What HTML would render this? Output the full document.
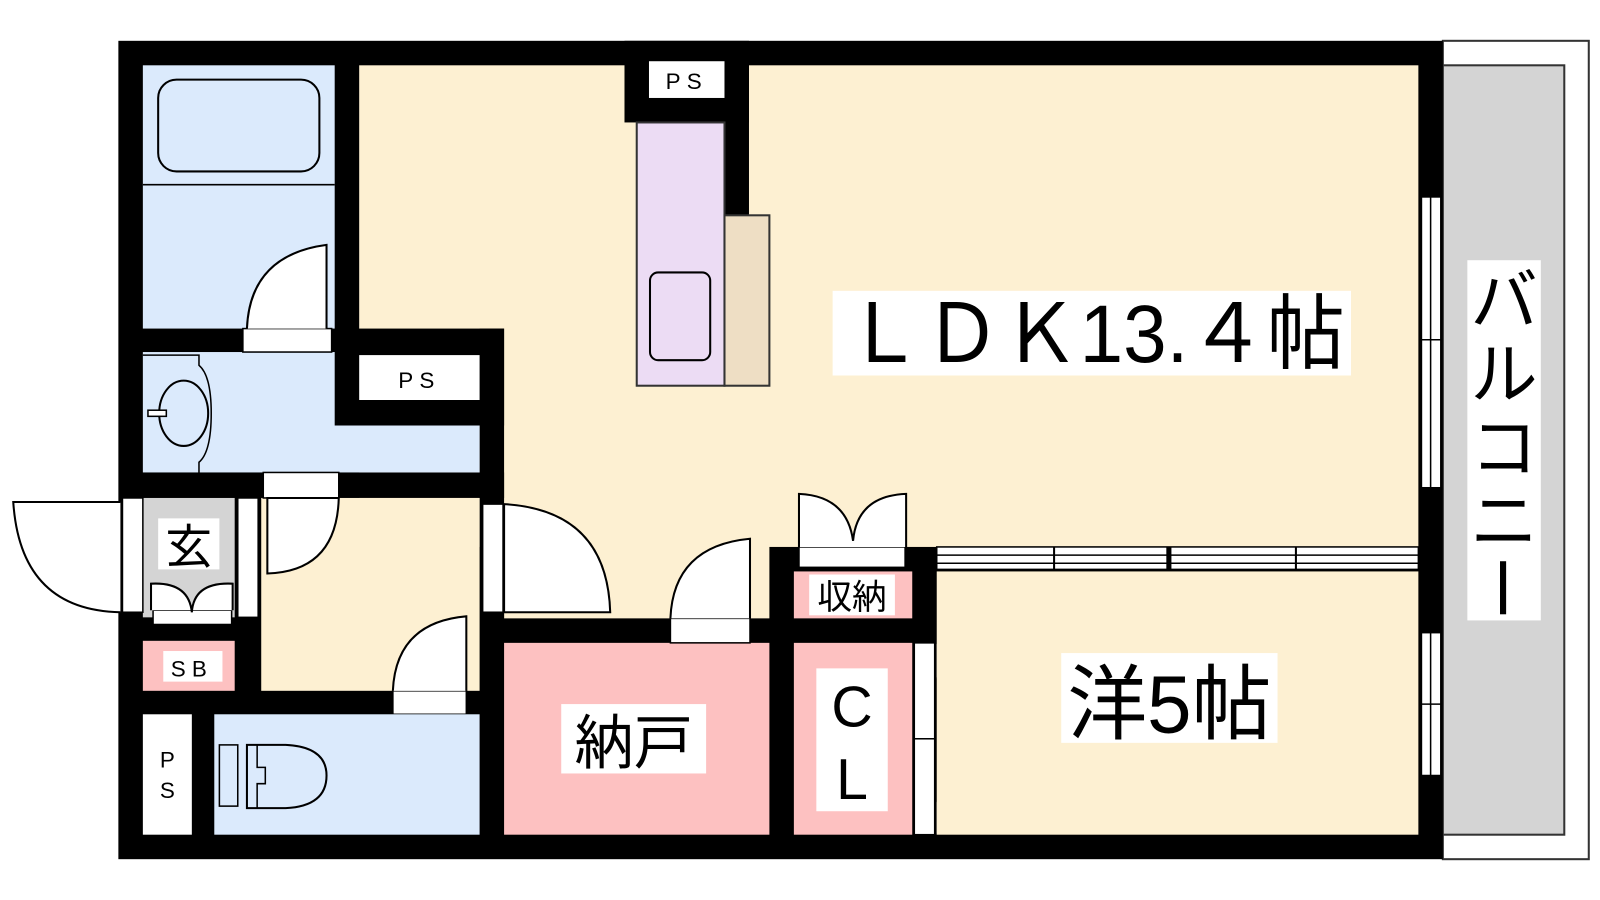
<!DOCTYPE html>
<html><head><meta charset="utf-8"><style>
html,body{margin:0;padding:0;background:#fff;width:1600px;height:900px;overflow:hidden}
svg{display:block}
text{font-family:"Liberation Sans","Noto Sans CJK JP",sans-serif;fill:#000}
</style></head><body>
<svg width="1600" height="900" viewBox="0 0 1568 882" preserveAspectRatio="none">
<!-- balcony -->
<rect x="1414" y="40" width="143" height="802" fill="#fff" stroke="#333" stroke-width="2"/>
<rect x="1414" y="64" width="119" height="754" fill="#d4d4d4" stroke="#333" stroke-width="2"/>
<!-- outer wall -->
<rect x="116" y="40" width="1298" height="802" fill="#000"/>
<!-- LDK -->
<rect x="352" y="64" width="1038" height="472" fill="#fdf0d2"/>
<rect x="494" y="320" width="260" height="286" fill="#fdf0d2"/>
<rect x="470" y="322" width="24" height="308" fill="#000"/>
<rect x="330" y="463" width="164" height="25" fill="#000"/>
<!-- bathroom -->
<rect x="140" y="64" width="188" height="258" fill="#dbeafc"/>
<rect x="155" y="78" width="158" height="90" rx="18" fill="none" stroke="#000" stroke-width="2"/>
<line x1="140" y1="181" x2="328" y2="181" stroke="#000" stroke-width="1.5"/>
<!-- washroom -->
<rect x="140" y="345" width="330" height="118" fill="#dbeafc"/>
<rect x="328" y="322" width="166" height="95" fill="#000"/>
<rect x="352" y="348" width="118" height="44" fill="#fff"/>
<text x="411" y="380" font-size="22" text-anchor="middle" letter-spacing="6">PS</text>
<path d="M140 348 H195 V358 Q207 368 207 405 Q207 443 195 453 V463" fill="none" stroke="#000" stroke-width="1.5"/>
<ellipse cx="180" cy="405" rx="24" ry="32" fill="none" stroke="#000" stroke-width="2"/>
<rect x="145" y="402" width="18" height="6" fill="#fff" stroke="#000" stroke-width="1.5"/>
<!-- bathroom door -->
<rect x="238" y="322" width="87" height="23" fill="#fff" stroke="#000" stroke-width="1.5"/>
<path d="M242 322 Q245 250 320 240 V322" fill="#fff" stroke="#000" stroke-width="2"/>
<!-- genkan -->
<rect x="140" y="488" width="90" height="117" fill="#d4d4d4"/>
<rect x="155" y="508" width="60" height="50" fill="#fff"/>
<text x="185" y="552" font-size="46" text-anchor="middle">玄</text>
<rect x="120" y="488" width="20" height="112" fill="#fff" stroke="#000" stroke-width="1.5"/>
<path d="M118 600 Q20 598 13 492 H118" fill="#fff" stroke="#000" stroke-width="2"/>
<rect x="233" y="488" width="20" height="117" fill="#fff" stroke="#000" stroke-width="1.5"/>
<rect x="150" y="598" width="77" height="14" fill="#fff" stroke="#000" stroke-width="1.5"/>
<path d="M148 598 V572 Q185 570 188 600 Q190 570 228 572 V598" fill="#fff" stroke="#000" stroke-width="2"/>
<rect x="140" y="628" width="90" height="49" fill="#fdc1c1"/>
<rect x="160" y="638" width="58" height="30" fill="#fff"/>
<text x="188" y="663" font-size="22" text-anchor="middle" letter-spacing="6">SB</text>
<!-- hall -->
<rect x="256" y="488" width="214" height="189" fill="#fdf0d2"/>
<rect x="258" y="463" width="74" height="25" fill="#fff" stroke="#000" stroke-width="1.5"/>
<path d="M262 488 V562 Q330 560 332 488 Z" fill="#fff" stroke="#000" stroke-width="2"/>
<!-- toilet door -->
<rect x="385" y="677" width="72" height="23" fill="#fff" stroke="#000" stroke-width="1.5"/>
<path d="M385 677 Q388 610 457 604 V677" fill="#fff" stroke="#000" stroke-width="2"/>
<!-- toilet -->
<rect x="140" y="700" width="48" height="118" fill="#fff"/>
<text x="164" y="752" font-size="22" text-anchor="middle">P</text>
<text x="164" y="782" font-size="22" text-anchor="middle">S</text>
<rect x="210" y="700" width="260" height="118" fill="#dbeafc"/>
<rect x="215" y="730" width="18" height="60" fill="#dbeafc" stroke="#000" stroke-width="1.5"/>
<path d="M242 730 H280 Q320 732 320 760 Q320 790 280 792 H242 Z" fill="#dbeafc" stroke="#000" stroke-width="2"/>
<path d="M252 730 V752 H260 V768 H252 V792" fill="none" stroke="#000" stroke-width="1.5"/>
<!-- LDK door from hall -->
<rect x="473" y="494" width="20" height="106" fill="#fff" stroke="#000" stroke-width="1.5"/>
<path d="M494 494 Q595 500 598 600 H494 Z" fill="#fff" stroke="#000" stroke-width="2"/>
<!-- nando -->
<rect x="494" y="630" width="260" height="188" fill="#fdc1c1"/>
<rect x="550" y="690" width="142" height="68" fill="#fff"/>
<text x="621" y="748" font-size="58" text-anchor="middle">納戸</text>
<rect x="657" y="606" width="78" height="24" fill="#fff" stroke="#000" stroke-width="1.5"/>
<path d="M657 606 Q660 535 735 528 V606" fill="#fff" stroke="#000" stroke-width="2"/>
<!-- storage -->
<rect x="778" y="560" width="116" height="46" fill="#fdc1c1"/>
<rect x="793" y="563" width="84" height="40" fill="#fff"/>
<text x="835" y="597" font-size="34" text-anchor="middle">収納</text>
<rect x="783" y="536" width="104" height="20" fill="#fff" stroke="#000" stroke-width="1.5"/>
<path d="M783 536 V484 Q830 486 836 530 Q840 486 888 484 V536" fill="#fff" stroke="#000" stroke-width="2"/>
<!-- CL -->
<rect x="778" y="630" width="116" height="188" fill="#fdc1c1"/>
<rect x="800" y="655" width="70" height="140" fill="#fff"/>
<text x="835" y="712" font-size="56" text-anchor="middle">C</text>
<text x="835" y="783" font-size="56" text-anchor="middle">L</text>
<rect x="896" y="630" width="20" height="94" fill="#fff" stroke="#000" stroke-width="1.5"/>
<rect x="896" y="724" width="20" height="94" fill="#fff" stroke="#000" stroke-width="1.5"/>
<path d="M918 630 L965 647 L918 665" fill="#fff" stroke="#000" stroke-width="2"/>
<path d="M918 785 L965 802 L918 818" fill="#fff" stroke="#000" stroke-width="2"/>
<!-- western room -->
<rect x="918" y="560" width="472" height="258" fill="#fdf0d2"/>
<rect x="1040" y="640" width="212" height="88" fill="#fff"/>
<text x="1146" y="718" font-size="80" text-anchor="middle" textLength="200" lengthAdjust="spacingAndGlyphs">洋5帖</text>
<!-- sliding partition -->
<rect x="918" y="536" width="472" height="22" fill="#fff" stroke="#000" stroke-width="1.5"/>
<line x1="918" y1="544" x2="1390" y2="544" stroke="#000" stroke-width="1.5"/>
<line x1="918" y1="552" x2="1390" y2="552" stroke="#000" stroke-width="1.5"/>
<rect x="1143" y="536" width="5" height="22" fill="#000"/>
<line x1="1033" y1="536" x2="1033" y2="558" stroke="#000" stroke-width="2"/>
<line x1="1270" y1="536" x2="1270" y2="558" stroke="#000" stroke-width="2"/>
<!-- kitchen -->
<rect x="612" y="40" width="122" height="80" fill="#000"/>
<rect x="636" y="60" width="74" height="36" fill="#fff"/>
<text x="673" y="87" font-size="22" text-anchor="middle" letter-spacing="6">PS</text>
<rect x="710" y="64" width="24" height="148" fill="#000"/>
<rect x="624" y="120" width="86" height="258" fill="#ecdcf4" stroke="#333" stroke-width="2"/>
<rect x="710" y="211" width="44" height="167" fill="#eedec4" stroke="#333" stroke-width="2"/>
<rect x="637" y="267" width="59" height="86" rx="8" fill="none" stroke="#000" stroke-width="2"/>
<!-- LDK label -->
<rect x="816" y="285" width="508" height="83" fill="#fff"/>
<text x="828" y="355" font-size="80" textLength="490" lengthAdjust="spacingAndGlyphs">ＬＤＫ13.４帖</text>
<!-- right windows -->
<rect x="1393" y="193" width="19" height="285" fill="#fff" stroke="#000" stroke-width="1.5"/>
<line x1="1402" y1="193" x2="1402" y2="478" stroke="#000" stroke-width="1.5"/>
<line x1="1393" y1="333" x2="1412" y2="333" stroke="#000" stroke-width="1.5"/>
<rect x="1393" y="620" width="19" height="140" fill="#fff" stroke="#000" stroke-width="1.5"/>
<line x1="1402" y1="620" x2="1402" y2="760" stroke="#000" stroke-width="1.5"/>
<line x1="1393" y1="690" x2="1412" y2="690" stroke="#000" stroke-width="1.5"/>
<!-- balcony label -->
<rect x="1438" y="255" width="72" height="353" fill="#fff"/>
<text x="1474" y="318" font-size="66" text-anchor="middle">バ</text>
<text x="1474" y="390" font-size="66" text-anchor="middle">ル</text>
<text x="1474" y="462" font-size="66" text-anchor="middle">コ</text>
<text x="1474" y="534" font-size="66" text-anchor="middle">ニ</text>
<rect x="1470" y="550" width="6" height="52" fill="#000"/>
</svg>
</body></html>
